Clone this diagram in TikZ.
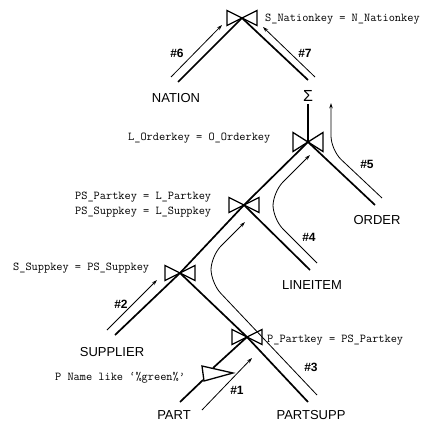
\documentclass[tikz,border=0pt]{standalone}
\usepackage{fontspec}
\setmainfont{Liberation Sans}
\usetikzlibrary{arrows.meta}
\begin{document}
\begin{tikzpicture}[x=1pt,y=-1pt,
  joinline/.style={line width=1.7pt},
  flow/.style={line width=0.8pt,-{Stealth[length=5.5pt,width=3.6pt]}},
  rel/.style={font=\fontsize{13}{15}\selectfont, inner sep=0pt},
  num/.style={font=\bfseries\fontsize{12}{14}\selectfont, inner sep=0pt},
  cond/.style={font=\ttfamily\fontsize{12}{14}\selectfont, inner sep=0pt, anchor=west},
  tie/.style={line width=1.3pt, line join=miter},
  bowtie/.pic={\draw[tie] (-15,-7.5) -- (-15,7.5) -- (15,-7.5) -- (15,7.5) -- cycle;},
  bigtie/.pic={\draw[tie] (-15,-9.5) -- (-15,9.5) -- (15,-9.5) -- (15,9.5) -- cycle;},
]
\useasboundingbox (0,0) rectangle (424,423);

% joins
\coordinate (j7) at (242,18);
\coordinate (j5) at (308,142);
\coordinate (j4) at (244,205);
\coordinate (j2) at (180,273);
\coordinate (j1) at (247,337);

% relation labels
\node[rel] (nation) at (176,98) {NATION};
\node[rel,font=\fontsize{16}{18}\selectfont] (sigma) at (308,96) {Σ};
\node[rel] (order) at (377,220) {ORDER};
\node[rel] (lineitem) at (312,285) {LINEITEM};
\node[rel] (supplier) at (112,352) {SUPPLIER};
\node[rel] (part) at (174,415) {PART};
\node[rel] (partsupp) at (311,415) {PARTSUPP};

% free ends of the tree edges
\coordinate (nationT) at (178,82);
\coordinate (sigmaL) at (308,80);
\coordinate (sigmaB) at (308,104);
\coordinate (orderT) at (375,205);
\coordinate (lineT) at (310,270);
\coordinate (suppT) at (115,335);
\coordinate (psT) at (308,402);
\coordinate (partT) at (180,402);

% selection triangle
\coordinate (selA) at (202,366);
\coordinate (selB) at (204,381);
\coordinate (selC) at (233,373);
\coordinate (selIn) at (213,368);
\coordinate (selOut) at (203,380);

% tree edges
\draw[joinline] (nationT) -- (j7) -- (sigmaL);
\draw[joinline] (sigmaB) -- (j5);
\draw[joinline] (j5) -- (orderT);
\draw[joinline] (j5) -- (j4) -- (lineT);
\draw[joinline] (j4) -- (j2) -- (suppT);
\draw[joinline] (j2) -- (j1) -- (psT);
\draw[joinline] (j1) -- (selIn);
\draw[joinline] (selOut) -- (partT);

% join symbols
\pic at (j7) {bowtie};
\pic at (j5) {bigtie};
\pic at (j4) {bowtie};
\pic at (j2) {bowtie};
\pic at (j1) {bowtie};
\draw[tie] (selA) -- (selB) -- (selC) -- cycle;

% flow arrows
\coordinate (a6s) at (171,77);  \coordinate (a6e) at (222,25);
\coordinate (a7s) at (315,77);  \coordinate (a7e) at (263,27);
\coordinate (a2s) at (107,330); \coordinate (a2e) at (157,280);
\coordinate (a1s) at (202,410); \coordinate (a1e) at (252,358);
\draw[flow] (a6s) -- (a6e);
\draw[flow] (a7s) -- (a7e);
\draw[flow] (a2s) -- (a2e);
\draw[flow] (a1s) -- (a1e);

\coordinate (a5s) at (382,198); \coordinate (a5m) at (331,150); \coordinate (a5e) at (331,103);
\draw[flow,rounded corners=14pt] (a5s) -- (a5m) -- (a5e);
\coordinate (a4s) at (317,263); \coordinate (a4m1) at (273,219); \coordinate (a4m2) at (273,192); \coordinate (a4e) at (310,155);
\draw[flow,rounded corners=14pt] (a4s) -- (a4m1) -- (a4m2) -- (a4e);
\coordinate (a3s) at (317,395); \coordinate (a3m1) at (211,283); \coordinate (a3m2) at (211,256); \coordinate (a3e) at (245,222);
\draw[flow,rounded corners=14pt] (a3s) -- (a3m1) -- (a3m2) -- (a3e);

% step numbers
\node[num] (n6) at (177,53) {\#6};
\node[num] (n7) at (305,53) {\#7};
\node[num] (n5) at (367,164) {\#5};
\node[num] (n4) at (309,237) {\#4};
\node[num] (n2) at (121,304) {\#2};
\node[num] (n3) at (311,367) {\#3};
\node[num] (n1) at (237,390) {\#1};

% predicates
\node[cond] (c7) at (265,19) {S\_Nationkey = N\_Nationkey};
\node[cond] (c5) at (128,138) {L\_Orderkey = O\_Orderkey};
\node[cond] (c4a) at (75,197) {PS\_Partkey = L\_Partkey};
\node[cond] (c4b) at (75,212) {PS\_Suppkey = L\_Suppkey};
\node[cond] (c2) at (13,268) {S\_Suppkey = PS\_Suppkey};
\node[cond] (c1) at (267,340) {P\_Partkey = PS\_Partkey};
\node[cond] (cs) at (55,378) {P Name like ‘\%green\%’};
\end{tikzpicture}
\end{document}
